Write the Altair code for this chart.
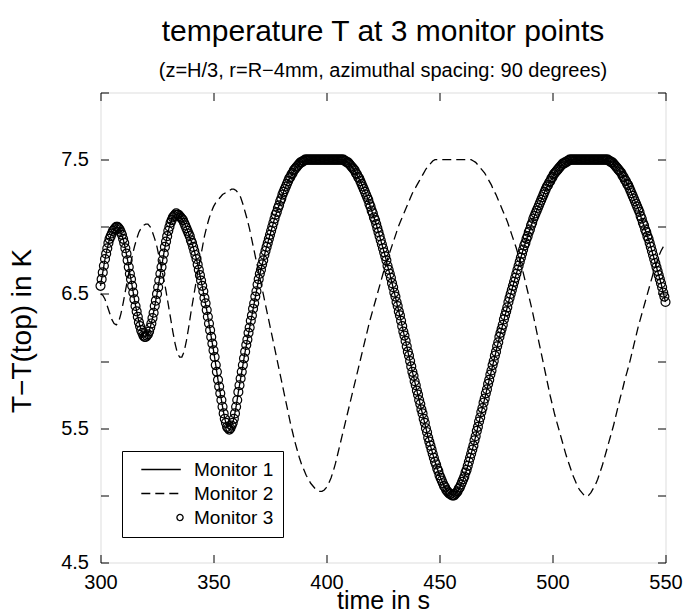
import altair as alt
import pandas as pd

# ---------------- data ----------------
time_s = list(range(300, 551))               # whole seconds
time_half = [t + 0.5 for t in range(300, 550)]  # half seconds (dense circle markers)

monitor3_T = [
    6.56, 6.66, 6.76, 6.84, 6.91, 6.95, 6.98, 7.00, 6.99, 6.96,
    6.91, 6.84, 6.75, 6.65, 6.56, 6.46, 6.37, 6.29, 6.23, 6.19,
    6.18, 6.20, 6.25, 6.32, 6.41, 6.50, 6.60, 6.70, 6.80, 6.89,
    6.97, 7.03, 7.07, 7.09, 7.09, 7.08, 7.06, 7.03, 6.99, 6.95,
    6.90, 6.85, 6.79, 6.72, 6.64, 6.56, 6.47, 6.38, 6.28, 6.18,
    6.08, 5.97, 5.86, 5.76, 5.66, 5.57, 5.51, 5.49, 5.52, 5.57,
    5.66, 5.77, 5.87, 5.97, 6.07, 6.16, 6.25, 6.34, 6.43, 6.52,
    6.61, 6.68, 6.75, 6.82, 6.88, 6.94, 7.00, 7.06, 7.11, 7.16,
    7.21, 7.26, 7.30, 7.34, 7.37, 7.40, 7.43, 7.45, 7.47, 7.48,
    7.49, 7.50, 7.50, 7.50, 7.50, 7.50, 7.50, 7.50, 7.50, 7.50,
    7.50, 7.50, 7.50, 7.50, 7.50, 7.50, 7.50, 7.50, 7.49, 7.48,
    7.47, 7.45, 7.43, 7.40, 7.37, 7.34, 7.30, 7.26, 7.22, 7.17,
    7.12, 7.07, 7.02, 6.96, 6.90, 6.84, 6.78, 6.71, 6.65, 6.58,
    6.51, 6.44, 6.37, 6.30, 6.22, 6.15, 6.07, 6.00, 5.92, 5.85,
    5.78, 5.71, 5.64, 5.57, 5.50, 5.43, 5.37, 5.31, 5.25, 5.20,
    5.15, 5.11, 5.07, 5.04, 5.02, 5.01, 5.00, 5.01, 5.03, 5.06,
    5.10, 5.14, 5.19, 5.25, 5.31, 5.37, 5.44, 5.51, 5.58, 5.65,
    5.72, 5.79, 5.86, 5.93, 6.00, 6.07, 6.14, 6.21, 6.27, 6.34,
    6.40, 6.47, 6.53, 6.59, 6.65, 6.71, 6.77, 6.83, 6.88, 6.93,
    6.98, 7.03, 7.08, 7.12, 7.16, 7.20, 7.24, 7.28, 7.31, 7.34,
    7.37, 7.40, 7.42, 7.44, 7.46, 7.47, 7.48, 7.49, 7.50, 7.50,
    7.50, 7.50, 7.50, 7.50, 7.50, 7.50, 7.50, 7.50, 7.50, 7.50,
    7.50, 7.50, 7.50, 7.50, 7.50, 7.49, 7.48, 7.47, 7.45, 7.43,
    7.41, 7.38, 7.35, 7.32, 7.29, 7.25, 7.21, 7.17, 7.13, 7.08,
    7.03, 6.98, 6.93, 6.88, 6.82, 6.76, 6.70, 6.64, 6.58, 6.51,
    6.44,
]

monitor3_T_half = [
    6.61, 6.71, 6.80, 6.88, 6.93, 6.97, 6.99, 7.00, 6.98, 6.94,
    6.88, 6.80, 6.70, 6.61, 6.51, 6.41, 6.33, 6.26, 6.21, 6.18,
    6.19, 6.22, 6.28, 6.36, 6.45, 6.55, 6.65, 6.75, 6.85, 6.93,
    7.00, 7.05, 7.08, 7.10, 7.09, 7.07, 7.05, 7.01, 6.97, 6.93,
    6.88, 6.82, 6.76, 6.68, 6.60, 6.52, 6.43, 6.33, 6.23, 6.13,
    6.03, 5.92, 5.81, 5.71, 5.61, 5.54, 5.50, 5.50, 5.54, 5.61,
    5.71, 5.82, 5.92, 6.02, 6.12, 6.21, 6.30, 6.39, 6.48, 6.57,
    6.65, 6.72, 6.79, 6.85, 6.91, 6.97, 7.03, 7.09, 7.14, 7.19,
    7.24, 7.28, 7.32, 7.36, 7.39, 7.42, 7.44, 7.46, 7.48, 7.49,
    7.50, 7.50, 7.50, 7.50, 7.50, 7.50, 7.50, 7.50, 7.50, 7.50,
    7.50, 7.50, 7.50, 7.50, 7.50, 7.50, 7.50, 7.50, 7.49, 7.48,
    7.46, 7.44, 7.42, 7.39, 7.36, 7.32, 7.28, 7.24, 7.20, 7.15,
    7.10, 7.05, 6.99, 6.93, 6.87, 6.81, 6.75, 6.68, 6.62, 6.55,
    6.48, 6.41, 6.34, 6.26, 6.19, 6.11, 6.04, 5.96, 5.89, 5.82,
    5.75, 5.68, 5.61, 5.54, 5.47, 5.40, 5.34, 5.28, 5.23, 5.18,
    5.13, 5.09, 5.06, 5.03, 5.01, 5.00, 5.00, 5.02, 5.05, 5.08,
    5.12, 5.17, 5.22, 5.28, 5.34, 5.41, 5.48, 5.55, 5.62, 5.69,
    5.76, 5.83, 5.90, 5.97, 6.04, 6.11, 6.18, 6.24, 6.31, 6.37,
    6.44, 6.50, 6.56, 6.62, 6.68, 6.74, 6.80, 6.86, 6.91, 6.96,
    7.01, 7.06, 7.10, 7.14, 7.18, 7.22, 7.26, 7.30, 7.33, 7.36,
    7.39, 7.41, 7.43, 7.45, 7.47, 7.48, 7.49, 7.50, 7.50, 7.50,
    7.50, 7.50, 7.50, 7.50, 7.50, 7.50, 7.50, 7.50, 7.50, 7.50,
    7.50, 7.50, 7.50, 7.50, 7.50, 7.49, 7.48, 7.46, 7.44, 7.42,
    7.40, 7.37, 7.34, 7.31, 7.27, 7.23, 7.19, 7.15, 7.11, 7.06,
    7.01, 6.96, 6.91, 6.85, 6.79, 6.73, 6.67, 6.61, 6.55, 6.48,
]

monitor2_T = [
    6.50, 6.49, 6.46, 6.41, 6.36, 6.31, 6.28, 6.27, 6.29, 6.35,
    6.43, 6.52, 6.61, 6.70, 6.78, 6.85, 6.91, 6.96, 6.99, 7.01,
    7.02, 7.02, 7.00, 6.96, 6.91, 6.85, 6.77, 6.69, 6.61, 6.52,
    6.42, 6.32, 6.22, 6.13, 6.06, 6.03, 6.03, 6.07, 6.15, 6.25,
    6.36, 6.46, 6.56, 6.66, 6.75, 6.84, 6.93, 7.00, 7.06, 7.11,
    7.15, 7.18, 7.20, 7.22, 7.24, 7.25, 7.26, 7.27, 7.28, 7.28,
    7.27, 7.25, 7.22, 7.17, 7.11, 7.05, 6.98, 6.90, 6.82, 6.74,
    6.66, 6.58, 6.50, 6.42, 6.34, 6.26, 6.18, 6.10, 6.02, 5.94,
    5.86, 5.78, 5.70, 5.62, 5.54, 5.47, 5.40, 5.34, 5.28, 5.23,
    5.19, 5.15, 5.12, 5.09, 5.07, 5.05, 5.04, 5.03, 5.03, 5.04,
    5.06, 5.09, 5.13, 5.18, 5.24, 5.31, 5.38, 5.45, 5.52, 5.59,
    5.66, 5.73, 5.80, 5.87, 5.94, 6.01, 6.08, 6.15, 6.22, 6.29,
    6.35, 6.41, 6.47, 6.53, 6.59, 6.65, 6.71, 6.76, 6.81, 6.86,
    6.91, 6.96, 7.01, 7.05, 7.09, 7.13, 7.17, 7.21, 7.25, 7.28,
    7.31, 7.34, 7.37, 7.40, 7.43, 7.45, 7.47, 7.49, 7.50, 7.50,
    7.50, 7.50, 7.50, 7.50, 7.50, 7.50, 7.50, 7.50, 7.50, 7.50,
    7.50, 7.50, 7.50, 7.50, 7.50, 7.49, 7.48, 7.46, 7.44, 7.42,
    7.40, 7.37, 7.34, 7.31, 7.27, 7.24, 7.20, 7.16, 7.12, 7.08,
    7.04, 6.99, 6.94, 6.89, 6.84, 6.78, 6.72, 6.66, 6.59, 6.52,
    6.45, 6.38, 6.30, 6.22, 6.14, 6.06, 5.98, 5.90, 5.82, 5.74,
    5.67, 5.60, 5.54, 5.48, 5.42, 5.36, 5.30, 5.25, 5.20, 5.15,
    5.11, 5.07, 5.04, 5.02, 5.00, 4.99, 5.00, 5.02, 5.05, 5.08,
    5.12, 5.17, 5.22, 5.28, 5.34, 5.40, 5.46, 5.52, 5.59, 5.66,
    5.73, 5.79, 5.86, 5.92, 5.98, 6.05, 6.12, 6.19, 6.26, 6.32,
    6.38, 6.44, 6.50, 6.56, 6.62, 6.68, 6.73, 6.78, 6.82, 6.85,
    6.87,
]

# Monitor 1 lies exactly under the Monitor 3 circles in the picture
monitor1_T = list(monitor3_T)

series_names = ["Monitor 1", "Monitor 2", "Monitor 3"]
x_ticks = [300, 350, 400, 450, 500, 550]
y_ticks = [4.5, 5.0, 5.5, 6.0, 6.5, 7.0, 7.5, 8.0]

line_rows = []
for name, vals in zip(series_names[:2], [monitor1_T, monitor2_T]):
    for t, v in zip(time_s, vals):
        line_rows.append({"time": t, "T": v, "series": name})
lines_df = pd.DataFrame(line_rows)

point_rows = [{"time": t, "T": v, "series": "Monitor 3"} for t, v in zip(time_s, monitor3_T)]
point_rows += [{"time": t, "T": v, "series": "Monitor 3"} for t, v in zip(time_half, monitor3_T_half)]
points_df = pd.DataFrame(point_rows).sort_values("time")

# ---------------- styling ----------------
FONT = "Liberation Sans"
W, H = 565, 470
TICK = 8

x_scale = alt.Scale(domain=[300, 550], nice=False, zero=False)
y_scale = alt.Scale(domain=[4.5, 8.0], nice=False, zero=False)

x_axis = alt.Axis(
    values=x_ticks, title="time in s", format="d",
    domain=False, ticks=False, tickSize=0, labelFlush=False, labelOverlap=False,
    grid=True, gridColor="black", gridOpacity=1, gridWidth=1,
    gridDash=[TICK, H - 2 * TICK, TICK, 0],
    labelFont=FONT, labelFontSize=20, labelColor="black", labelPadding=10,
    titleFont=FONT, titleFontSize=25, titleFontWeight="normal", titleColor="black",
    titleBaseline="alphabetic", titleY=46,
)
y_axis = alt.Axis(
    values=y_ticks, title="T\u2212T(top) in K", format=".1f",
    labelExpr="(round(datum.value * 2) % 2 == 1) ? datum.label : ''",
    domain=False, ticks=False, tickSize=0, labelFlush=False, labelOverlap=False,
    grid=True, gridColor="black", gridOpacity=1, gridWidth=1,
    gridDash=[TICK, W - 2 * TICK, TICK, 0],
    labelFont=FONT, labelFontSize=20, labelColor="black", labelPadding=12,
    titleFont=FONT, titleFontSize=28, titleFontWeight="normal", titleColor="black",
    titleBaseline="alphabetic", titleX=-70, titleY=238, titleAngle=270,
)

legend = alt.Legend(
    title=None, orient="none", legendX=21.5, legendY=358.5,
    padding=9, strokeColor="black", fillColor="white", cornerRadius=0,
    labelFont=FONT, labelFontSize=19, labelColor="black", labelOffset=44,
    labelLimit=300, rowPadding=4, symbolStrokeColor="black",
    symbolStrokeWidth=1.3, symbolSize=65,
)

# legend keys: a long horizontal stroke for the lines, a small ring for the markers
LINE_KEY = "M0.2,0H10.0"
RING_KEY = "M10.56,0A0.76,0.76,0,1,1,9.04,0A0.76,0.76,0,1,1,10.56,0Z"
dash_scale = alt.Scale(domain=series_names, range=[[1, 0], [9, 5], [1, 0]])
key_scale = alt.Scale(domain=series_names, range=[LINE_KEY, LINE_KEY, RING_KEY])

enc_x = alt.X("time:Q", scale=x_scale, axis=x_axis)
enc_y = alt.Y("T:Q", scale=y_scale, axis=y_axis)

lines = alt.Chart(lines_df).mark_line(color="black", strokeWidth=1.3).encode(
    x=enc_x, y=enc_y,
    strokeDash=alt.StrokeDash("series:N", scale=dash_scale, legend=legend),
)

points = alt.Chart(points_df).mark_point(
    shape="circle", filled=False, color="black", strokeWidth=1.2, opacity=1, size=80
).encode(x=enc_x, y=enc_y)

legend_keys = alt.Chart(lines_df).transform_filter("datum.T < 0").mark_point(
    filled=False, color="black", opacity=1
).encode(
    x=enc_x, y=enc_y,
    shape=alt.Shape("series:N", scale=key_scale, legend=legend),
    strokeDash=alt.StrokeDash("series:N", scale=dash_scale, legend=legend),
)

chart = alt.layer(lines, points, legend_keys).properties(
    width=W, height=H,
    title=alt.TitleParams(
        text="temperature T at 3 monitor points",
        subtitle="(z=H/3, r=R\u22124mm, azimuthal spacing: 90 degrees)",
        font=FONT, fontSize=30, fontWeight="normal", color="black",
        subtitleFont=FONT, subtitleFontSize=20, subtitleColor="black",
        subtitlePadding=14, anchor="middle", offset=2,
    ),
    autosize=alt.AutoSizeParams(type="none"),
    padding={"left": 100.5, "top": 92.5, "right": 18, "bottom": 51},
).configure_view(
    stroke="black", strokeWidth=1.3, fill="white"
).configure(background="white")

chart.save("out.html", embed_options={"renderer": "svg", "actions": False})
